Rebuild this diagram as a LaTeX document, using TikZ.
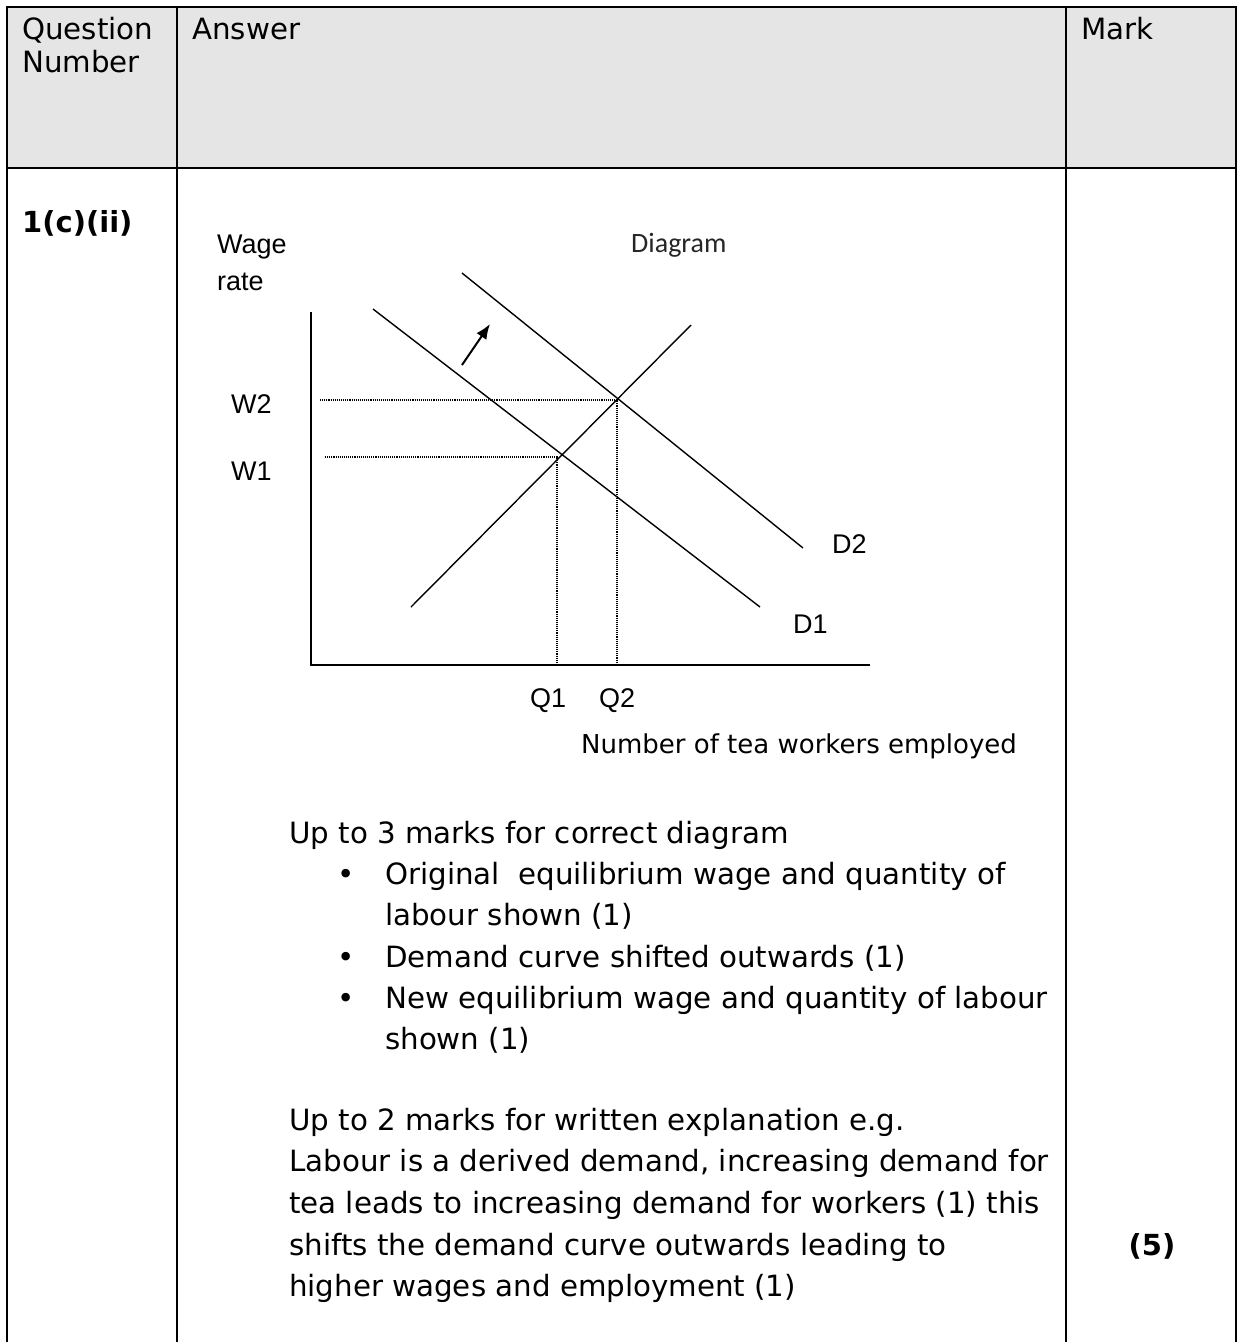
\documentclass[tikz,border=0pt]{standalone}
\usepackage{fontspec}
\setmainfont{DejaVu Sans}
\newfontfamily\arialfont{Liberation Sans}
\newfontfamily\calibrifont{Carlito}
\usetikzlibrary{arrows.meta}

\begin{document}
\begin{tikzpicture}[x=1pt,y=-1pt,
    rule/.style={line width=2.2pt},
    curve/.style={line width=1.4pt},
    guide/.style={densely dotted,line width=1.1pt},
    txt/.style={anchor=base west,inner sep=0pt,font=\fontsize{29.3}{34}\selectfont},
    boldtxt/.style={anchor=base west,inner sep=0pt,font=\bfseries\fontsize{29}{34}\selectfont},
    lbl/.style={anchor=base west,inner sep=0pt,font=\arialfont\fontsize{27}{30}\selectfont}]
  % Constants
  \pgfmathsetmacro\colA{7}
  \pgfmathsetmacro\colB{177}
  \pgfmathsetmacro\colC{1066}
  \pgfmathsetmacro\colD{1236}
  \pgfmathsetmacro\rowA{7}
  \pgfmathsetmacro\rowB{168}
  \pgfmathsetmacro\pageH{1342}
  % Boundary
  \path[use as bounding box] (0,0) rectangle (1239,\pageH);
  % Table grid
  \fill[black!10] (\colA,\rowA) rectangle (\colD,\rowB);
  \draw[rule] (\colA,\pageH) -- (\colA,\rowA) -- (\colD,\rowA) -- (\colD,\pageH);
  \draw[rule] (\colA,\rowB) -- (\colD,\rowB);
  \draw[rule] (\colB,\rowA) -- (\colB,\pageH);
  \draw[rule] (\colC,\rowA) -- (\colC,\pageH);
  % Header
  \node[txt] (question) at (22,39) {Question};
  \node[txt] (number) at (22,72) {Number};
  \node[txt] (answer) at (192,39) {Answer};
  \node[txt] (mark) at (1081,39) {Mark};
  \node[boldtxt] (part) at (22,232) {1(c)(ii)};
  \node[boldtxt,anchor=base] (total) at (1152,1255) {(5)};
  % Axes
  \coordinate (yend) at (311,312);
  \coordinate (origin) at (311,665);
  \coordinate (xend) at (870,665);
  \draw[line width=2pt] (yend) -- (origin) -- (xend);
  % Supply and demand
  \coordinate (s0) at (411,607);
  \coordinate (s1) at (691,325);
  \coordinate (d1a) at (373,309);
  \coordinate (d1b) at (760,607);
  \coordinate (d2a) at (462,273);
  \coordinate (d2b) at (803,548);
  \draw[curve] (s0) -- (s1);
  \draw[curve] (d1a) -- (d1b);
  \draw[curve] (d2a) -- (d2b);
  % Shift of demand
  \coordinate (shift0) at (462,365);
  \coordinate (shift1) at (490,324);
  \draw[-{Latex[length=15pt,width=12pt]},line width=2pt] (shift0) -- (shift1);
  % Equilibria
  \coordinate (e1) at (557,457);
  \coordinate (e2) at (617,400);
  \coordinate (w1) at (325,457);
  \coordinate (w2) at (320,400);
  \coordinate (q1) at (557,665);
  \coordinate (q2) at (617,665);
  \draw[guide] (w1) -- (e1) -- (q1);
  \draw[guide] (w2) -- (e2) -- (q2);
  % Axis labels
  \node[lbl] (wage) at (217,253) {Wage};
  \node[lbl] (rate) at (217,290) {rate};
  \node[lbl] (lblW2) at (231,413) {W2};
  \node[lbl] (lblW1) at (231,480) {W1};
  \node[lbl] (lblD2) at (832,553) {D2};
  \node[lbl] (lblD1) at (793,633) {D1};
  \node[lbl] (lblQ1) at (530,707) {Q1};
  \node[lbl] (lblQ2) at (599,707) {Q2};
  \node[anchor=base west,inner sep=0pt,text=black!85,font=\calibrifont\fontsize{28}{30}\selectfont] (diagram) at (631,252) {Diagram};
  \node[txt,font=\fontsize{26}{30}\selectfont] (workers) at (581,753) {Number of tea workers employed};
  % Marks for the diagram
  \node[txt] (crit1) at (289,843) {Up to 3 marks for correct diagram};
  \node[txt,anchor=base] (dot1) at (346,884) {•};
  \node[txt] (item1) at (385,884) {Original\ \ equilibrium wage and quantity of};
  \node[txt] (item1b) at (385,925) {labour shown (1)};
  \node[txt,anchor=base] (dot2) at (346,967) {•};
  \node[txt] (item2) at (385,967) {Demand curve shifted outwards (1)};
  \node[txt,anchor=base] (dot3) at (346,1008) {•};
  \node[txt] (item3) at (385,1008) {New equilibrium wage and quantity of labour};
  \node[txt] (item3b) at (385,1049) {shown (1)};
  % Marks for the explanation
  \node[txt] (crit2) at (289,1130) {Up to 2 marks for written explanation e.g.};
  \node[txt] (expl1) at (289,1171) {Labour is a derived demand, increasing demand for};
  \node[txt] (expl2) at (289,1213) {tea leads to increasing demand for workers (1) this};
  \node[txt] (expl3) at (289,1255) {shifts the demand curve outwards leading to};
  \node[txt] (expl4) at (289,1296) {higher wages and employment (1)};
\end{tikzpicture}
\end{document}
